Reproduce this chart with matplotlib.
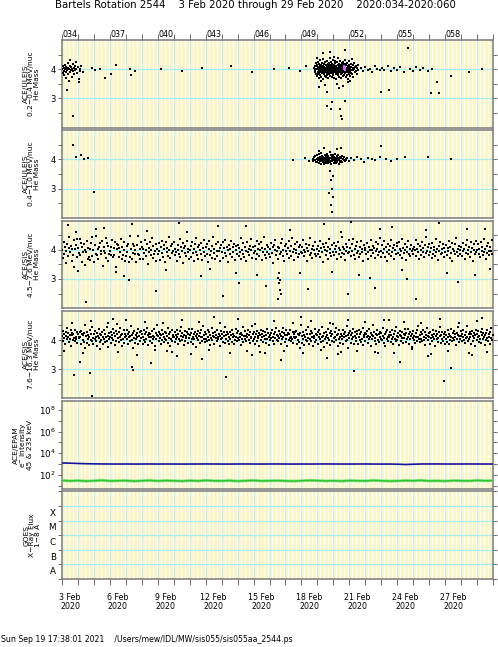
import numpy as np
import matplotlib
matplotlib.use("Agg")
from matplotlib import pyplot as plt
import matplotlib.ticker as mticker

plt.rcParams['font.family'] = ['DejaVu Sans']

# ---- axis / label data ----
doy_start, doy_end = 34, 61
doy_labels = ['034', '037', '040', '043', '046', '049', '052', '055', '058']
doy_label_days = [34, 37, 40, 43, 46, 49, 52, 55, 58]
date_labels = ['3 Feb\n2020', '6 Feb\n2020', '9 Feb\n2020', '12 Feb\n2020', '15 Feb\n2020',
               '18 Feb\n2020', '21 Feb\n2020', '24 Feb\n2020', '27 Feb\n2020']
panel_labels = ["ACE/ULEIS\n0.2\u22120.4 MeV/nuc\nHe Mass",
                "ACE/ULEIS\n0.4\u22121.0 MeV/nuc\nHe Mass",
                "ACE/SIS\n4.5\u22127.6 MeV/nuc\nHe Mass",
                "ACE/SIS\n7.6\u221216.3 MeV/nuc\nHe Mass",
                "ACE/EPAM\ne$^{-}$ Intensity\n45 & 235 keV",
                "GOES\nX\u2212Ray Flux\n1\u22128 \u00c5"]
goes_classes = ['A', 'B', 'C', 'M', 'X']
title = "Bartels Rotation 2544    3 Feb 2020 through 29 Feb 2020    2020:034-2020:060"
footer = "Sun Sep 19 17:38:01 2021    /Users/mew/IDL/MW/sis055/sis055aa_2544.ps"

# ---- ULEIS 0.2-0.4 MeV/nuc (doy, mass) ----
uleis_lo_pts = [
    (34.02, 4.02), (34.05, 3.88), (34.08, 4.10), (34.10, 3.95), (34.12, 4.05), (34.15, 3.80), (34.18, 4.00),
    (34.20, 4.15), (34.22, 3.92), (34.25, 4.08), (34.28, 3.70), (34.30, 4.02), (34.33, 3.98), (34.35, 4.20),
    (34.38, 3.85), (34.40, 4.05), (34.43, 3.60), (34.45, 4.00), (34.48, 4.12), (34.50, 3.90), (34.53, 4.30),
    (34.55, 3.96), (34.58, 4.06), (34.60, 3.75), (34.63, 4.00), (34.66, 4.18), (34.70, 3.93), (34.73, 4.03),
    (34.76, 3.82), (34.80, 4.10), (34.83, 3.97), (34.87, 4.25), (34.90, 4.00), (34.95, 3.88), (35.00, 4.08),
    (35.05, 3.65), (35.10, 4.02), (35.15, 3.95), (35.20, 4.12), (35.30, 3.90), (34.30, 3.30), (34.70, 2.40),
    (35.05, 3.55), (35.85, 4.05), (36.06, 3.97), (36.40, 4.02), (36.70, 3.70), (37.10, 3.82), (37.40, 4.13),
    (38.25, 4.00), (38.30, 3.80), (38.60, 3.95), (40.20, 4.00), (41.50, 3.95), (42.80, 4.05), (44.60, 4.10),
    (45.90, 3.90), (47.30, 4.00), (48.20, 4.05), (48.90, 3.95), (49.30, 4.10),
    # main burst
    (49.80, 4.05), (49.83, 3.92), (49.86, 4.12), (49.88, 3.98), (49.90, 4.20), (49.92, 3.85), (49.94, 4.02),
    (49.95, 4.10), (49.97, 3.78), (49.99, 4.00), (50.00, 4.15), (50.01, 3.90), (50.03, 4.05), (50.04, 3.82),
    (50.05, 4.25), (50.07, 3.96), (50.08, 4.08), (50.09, 3.70), (50.10, 4.00), (50.12, 4.18), (50.13, 3.88),
    (50.14, 4.03), (50.15, 3.95), (50.17, 4.30), (50.18, 3.80), (50.19, 4.10), (50.20, 3.99), (50.22, 4.06),
    (50.23, 3.74), (50.24, 4.14), (50.25, 3.92), (50.27, 4.01), (50.28, 4.22), (50.29, 3.86), (50.30, 4.07),
    (50.32, 3.97), (50.33, 4.35), (50.34, 3.65), (50.35, 4.04), (50.37, 3.90), (50.38, 4.12), (50.39, 3.83),
    (50.40, 4.00), (50.42, 4.19), (50.43, 3.94), (50.44, 4.09), (50.45, 3.77), (50.47, 4.02), (50.48, 4.26),
    (50.49, 3.89), (50.50, 4.05), (50.52, 3.96), (50.53, 4.15), (50.54, 3.72), (50.55, 4.01), (50.57, 4.11),
    (50.58, 3.87), (50.59, 4.04), (50.60, 3.93), (50.62, 4.28), (50.63, 3.81), (50.64, 4.06), (50.65, 3.98),
    (50.67, 4.17), (50.68, 3.69), (50.69, 4.03), (50.70, 4.13), (50.72, 3.91), (50.73, 4.00), (50.74, 4.21),
    (50.75, 3.84), (50.77, 4.08), (50.78, 3.95), (50.79, 4.40), (50.80, 3.78), (50.82, 4.02), (50.83, 4.16),
    (50.84, 3.88), (50.85, 4.05), (50.87, 3.97), (50.88, 4.24), (50.89, 3.75), (50.90, 4.10), (50.92, 3.92),
    (50.93, 4.01), (50.94, 4.18), (50.95, 3.86), (50.97, 4.06), (50.98, 3.99), (50.99, 4.32), (51.00, 3.80),
    (51.02, 4.09), (51.03, 3.94), (51.04, 4.14), (51.05, 3.71), (51.07, 4.03), (51.08, 4.20), (51.09, 3.90),
    (51.10, 4.04), (51.12, 3.96), (51.13, 4.27), (51.14, 3.83), (51.15, 4.07), (51.17, 3.98), (51.18, 4.12),
    (51.19, 3.66), (51.20, 4.00), (51.22, 4.23), (51.23, 3.89), (51.24, 4.05), (51.25, 3.93), (51.27, 4.15),
    (51.28, 3.79), (51.29, 4.02), (51.30, 4.38), (51.32, 3.87), (51.33, 4.08), (51.34, 3.95), (51.35, 4.19),
    (51.37, 3.74), (51.38, 4.01), (51.39, 4.11), (51.40, 3.91), (51.42, 4.04), (51.43, 3.97), (51.44, 4.29),
    (51.45, 3.82), (51.47, 4.06), (51.48, 3.99), (51.49, 4.16), (51.50, 3.70), (51.52, 4.03), (51.53, 4.21),
    (51.54, 3.88), (51.55, 4.09), (51.57, 3.94), (51.58, 4.13), (51.59, 3.76), (51.60, 4.00), (51.62, 4.25),
    (51.63, 3.90), (51.64, 4.05), (51.65, 3.96), (51.67, 4.17), (51.68, 3.81), (51.69, 4.02), (51.70, 4.10),
    (51.72, 3.93), (51.73, 4.31), (51.74, 3.86), (51.75, 4.07), (51.77, 3.98), (51.78, 4.14), (51.79, 3.73),
    (51.80, 4.01), (51.82, 4.19), (51.83, 3.89), (51.84, 4.04), (51.85, 3.95), (51.87, 4.22), (51.88, 3.79),
    (51.89, 4.08), (51.90, 3.97), (51.92, 4.12), (51.93, 3.68), (51.94, 4.03), (51.95, 4.16), (51.97, 3.91),
    (51.98, 4.05), (51.99, 3.84), (52.00, 4.27), (52.02, 3.94), (52.04, 4.09), (52.05, 3.77), (52.07, 4.02),
    (52.09, 4.18), (52.10, 3.88), (52.12, 4.06), (52.14, 3.96), (52.16, 4.34), (52.18, 3.82), (52.20, 4.04),
    (52.22, 3.99), (52.24, 4.13), (52.26, 3.72), (52.28, 4.01), (52.31, 4.20), (52.33, 3.90), (52.36, 4.07),
    (52.39, 3.95), (52.42, 4.11), (52.45, 3.85), (52.48, 4.03), (52.52, 3.97), (52.55, 4.15),
    (50.10, 3.40), (50.35, 4.55), (50.60, 3.23), (50.62, 2.73), (50.90, 2.87), (50.85, 2.63), (51.40, 2.63),
    (51.50, 2.40), (51.55, 2.30), (51.70, 2.90), (51.70, 4.67), (51.05, 4.43), (49.95, 4.40), (50.50, 3.45),
    (51.20, 3.50), (51.90, 3.55), (50.80, 4.60), (51.35, 3.35), (52.05, 3.60), (50.25, 3.58), (51.62, 3.42),
    # trailing points
    (52.70, 4.05), (52.85, 3.95), (53.00, 4.08), (53.15, 3.98), (53.30, 4.02), (53.45, 3.92), (53.60, 4.10),
    (53.75, 4.00), (53.90, 3.96), (54.00, 3.23), (54.05, 4.05), (54.20, 3.99), (54.40, 4.12), (54.50, 3.30),
    (54.60, 3.94), (54.80, 4.03), (55.00, 3.97), (55.20, 4.08), (55.40, 3.90), (55.70, 4.73), (55.80, 4.02),
    (56.00, 3.95), (56.20, 4.06), (56.40, 3.99), (56.60, 4.04), (56.90, 3.93), (57.10, 3.20), (57.20, 4.01),
    (57.50, 3.57), (57.60, 3.20), (58.40, 3.77), (59.50, 3.90), (60.30, 4.00),
]
uleis_lo_pink = [(51.65, 4.02), (51.68, 4.06), (51.70, 3.98), (51.72, 4.04), (51.67, 4.10), (51.71, 4.08)]

# ---- ULEIS 0.4-1.0 MeV/nuc (doy, mass) ----
uleis_hi_pts = [
    (34.70, 4.50), (34.85, 4.10), (35.20, 4.15), (35.40, 4.02), (35.60, 4.05), (36.00, 2.87),
    (48.50, 3.98), (49.20, 4.05), (49.50, 3.95),
    (49.70, 4.02), (49.75, 3.95), (49.80, 4.08), (49.85, 3.98), (49.88, 4.12), (49.92, 3.90), (49.95, 4.03),
    (49.98, 4.15), (50.00, 3.93), (50.03, 4.05), (50.05, 3.97), (50.07, 4.18), (50.10, 3.88), (50.12, 4.01),
    (50.14, 4.10), (50.16, 3.94), (50.18, 4.06), (50.20, 3.99), (50.22, 4.22), (50.25, 3.86), (50.27, 4.04),
    (50.29, 3.96), (50.31, 4.13), (50.33, 3.91), (50.35, 4.00), (50.37, 4.09), (50.39, 3.84), (50.41, 4.03),
    (50.43, 3.97), (50.45, 4.16), (50.47, 3.92), (50.49, 4.05), (50.51, 3.98), (50.53, 4.11), (50.55, 3.89),
    (50.57, 4.02), (50.59, 4.20), (50.61, 3.95), (50.63, 4.07), (50.65, 3.87), (50.67, 4.00), (50.69, 4.12),
    (50.71, 3.93), (50.73, 4.04), (50.75, 3.99), (50.77, 4.25), (50.79, 3.90), (50.81, 4.06), (50.83, 3.96),
    (50.85, 4.14), (50.87, 3.85), (50.89, 4.01), (50.91, 4.09), (50.93, 3.94), (50.95, 4.03), (50.97, 3.97),
    (50.99, 4.17), (51.01, 3.88), (51.03, 4.05), (51.05, 3.98), (51.07, 4.10), (51.09, 3.92), (51.11, 4.02),
    (51.13, 4.19), (51.15, 3.95), (51.17, 4.06), (51.19, 3.89), (51.21, 4.00), (51.23, 4.12), (51.25, 3.93),
    (51.27, 4.04), (51.29, 3.97), (51.31, 4.15), (51.33, 3.86), (51.35, 4.03), (51.38, 3.99), (51.41, 4.08),
    (51.44, 3.91), (51.47, 4.05), (51.50, 3.96), (51.53, 4.11), (51.56, 3.90), (51.60, 4.02), (51.64, 3.97),
    (51.68, 4.07), (51.72, 3.94), (51.77, 4.03), (51.82, 3.98), (51.88, 4.06), (51.95, 3.95),
    (50.80, 3.60), (50.85, 3.30), (50.90, 3.00), (50.95, 2.70), (50.88, 2.45), (50.92, 2.20), (51.00, 3.45),
    (50.75, 2.85), (50.40, 4.40), (51.20, 4.35), (50.10, 4.30), (51.50, 4.38),
    (52.10, 4.05), (52.30, 3.97), (52.50, 4.08), (52.70, 4.00), (52.90, 3.93), (53.20, 4.06), (53.40, 4.02),
    (53.60, 3.98), (53.90, 4.10), (54.00, 4.45), (54.30, 4.00), (54.60, 3.95), (55.00, 4.03), (55.50, 4.08),
    (56.90, 4.10), (58.40, 4.00),
]

# ---- SIS 4.5-7.6 MeV/nuc: masses per day, sampled at sis_lo_offsets within each day ----
sis_lo_offsets = [0.01, 0.06, 0.10, 0.15, 0.19, 0.24, 0.28, 0.33, 0.37, 0.42, 0.46,
                  0.51, 0.55, 0.60, 0.64, 0.69, 0.73, 0.78, 0.82, 0.87, 0.91, 0.96]
sis_lo_mass = [
    [4.00, 3.73, 4.26, 3.87, 4.09, 3.55, 3.97, 4.20, 3.80, 4.43, 4.05, 3.92, 4.13, 3.62, 4.04, 3.83, 4.32, 3.40, 4.02, 4.16, 3.76, 4.38],
    [4.06, 3.88, 4.37, 3.81, 4.24, 3.59, 4.11, 3.91, 4.18, 3.48, 4.00, 3.93, 4.29, 3.70, 4.07, 3.74, 4.03, 3.65, 4.22, 3.79, 4.45, 3.99],
    [3.57, 4.15, 3.86, 4.47, 3.82, 4.02, 3.70, 4.10, 4.23, 3.85, 3.96, 4.30, 3.44, 3.96, 4.08, 3.90, 4.40, 3.73, 4.24, 3.60, 4.14, 3.84],
    [3.96, 4.08, 3.83, 4.33, 3.75, 4.05, 3.82, 4.28, 3.42, 4.01, 4.19, 4.16, 3.76, 4.06, 3.91, 4.37, 3.69, 4.09, 3.81, 3.99, 4.27, 3.63],
    [3.79, 4.13, 3.93, 4.19, 3.58, 4.46, 3.74, 4.03, 3.70, 4.21, 3.89, 4.14, 3.85, 3.99, 3.57, 4.15, 3.86, 4.47, 3.82, 4.02, 3.68, 4.25],
    [4.11, 3.67, 4.02, 3.89, 4.34, 3.78, 3.98, 4.21, 3.52, 4.06, 3.94, 4.27, 3.81, 4.00, 4.41, 3.72, 4.12, 3.87, 3.95, 4.18, 3.61, 4.03],
    [3.84, 4.22, 3.97, 3.66, 4.09, 4.31, 3.90, 3.76, 4.15, 4.02, 3.58, 4.25, 3.93, 4.07, 3.80, 4.44, 3.99, 3.71, 4.13, 3.88, 4.19, 3.95],
    [4.28, 3.82, 4.04, 3.93, 3.63, 4.17, 4.00, 3.86, 4.36, 3.74, 4.10, 3.96, 4.23, 3.55, 4.05, 3.89, 4.14, 3.78, 4.30, 3.92, 4.01, 3.69],
    [3.98, 4.12, 3.75, 4.26, 3.88, 4.03, 3.60, 4.19, 3.94, 4.39, 3.81, 4.08, 3.70, 4.16, 3.99, 3.85, 4.24, 3.64, 4.06, 3.91, 4.33, 3.79],
    [4.09, 3.87, 4.20, 3.59, 4.01, 4.29, 3.83, 3.96, 4.13, 3.73, 4.42, 3.90, 4.04, 3.68, 4.18, 3.95, 3.80, 4.27, 3.97, 4.07, 3.62, 4.15],
    [3.93, 4.25, 3.71, 4.05, 3.89, 4.35, 3.77, 4.11, 3.99, 3.57, 4.16, 3.86, 4.02, 4.30, 3.74, 4.09, 3.92, 4.21, 3.66, 4.00, 4.12, 3.84],
    [4.17, 3.79, 4.06, 3.94, 4.40, 3.68, 4.00, 3.87, 4.23, 3.75, 4.10, 3.97, 3.61, 4.28, 3.91, 4.04, 3.83, 4.14, 3.98, 4.37, 3.72, 4.08],
    [3.89, 4.14, 3.96, 3.70, 4.31, 3.85, 4.03, 4.19, 3.78, 3.99, 4.26, 3.64, 4.07, 3.92, 4.45, 3.81, 4.01, 3.73, 4.15, 3.94, 4.09, 3.86],
    [4.02, 3.76, 4.24, 3.90, 4.08, 3.55, 4.17, 3.98, 4.33, 3.82, 3.95, 4.11, 3.69, 4.05, 3.87, 4.22, 3.93, 4.38, 3.77, 4.00, 3.63, 4.13],
    [3.95, 4.20, 3.84, 4.06, 3.72, 4.29, 3.97, 4.12, 3.80, 4.41, 3.91, 4.03, 3.66, 4.18, 3.89, 3.99, 4.25, 3.75, 4.08, 3.86, 4.15, 3.94],
    [4.10, 3.88, 4.34, 3.79, 4.00, 3.93, 4.21, 3.62, 4.07, 3.96, 4.16, 3.83, 4.39, 3.90, 4.04, 3.71, 4.13, 3.98, 3.85, 4.27, 3.77, 4.02],
    [3.87, 4.12, 3.97, 4.30, 3.74, 4.05, 3.91, 4.19, 3.58, 4.09, 3.99, 3.82, 4.24, 3.95, 4.11, 3.68, 4.36, 3.89, 4.03, 3.80, 4.17, 3.92],
    [4.23, 3.81, 4.01, 3.94, 4.14, 3.70, 4.28, 3.86, 4.06, 3.99, 3.76, 4.43, 3.90, 4.10, 3.84, 4.02, 3.65, 4.20, 3.96, 4.08, 3.88, 4.32],
    [3.92, 4.07, 3.78, 4.18, 3.96, 4.37, 3.83, 4.02, 3.69, 4.13, 3.90, 4.25, 3.97, 3.74, 4.09, 3.86, 4.31, 3.94, 4.04, 3.61, 4.16, 3.99],
    [4.05, 3.85, 4.22, 3.93, 3.67, 4.11, 4.00, 4.34, 3.80, 3.98, 4.14, 3.88, 4.06, 3.73, 4.27, 3.95, 4.01, 3.82, 4.19, 3.91, 4.40, 3.76],
    [3.97, 4.16, 3.89, 4.03, 4.29, 3.75, 4.08, 3.94, 3.60, 4.21, 3.86, 4.00, 4.12, 3.79, 4.35, 3.92, 4.05, 3.70, 4.17, 3.98, 3.84, 4.24],
    [4.13, 3.90, 4.26, 3.82, 4.01, 3.96, 4.38, 3.72, 4.07, 3.88, 4.19, 3.99, 3.64, 4.10, 3.93, 4.30, 3.85, 4.04, 3.77, 4.15, 3.95, 4.02],
    [3.86, 4.09, 3.98, 4.32, 3.79, 4.04, 3.91, 4.20, 3.68, 4.12, 4.00, 3.83, 4.27, 3.94, 4.06, 3.74, 4.17, 3.89, 4.42, 3.97, 4.08, 3.81],
    [4.19, 3.93, 4.05, 3.71, 4.24, 3.87, 4.11, 3.99, 3.80, 4.36, 3.92, 4.03, 3.66, 4.14, 3.96, 4.28, 3.84, 4.01, 3.90, 4.21, 3.75, 4.07],
    [3.94, 4.15, 3.82, 4.06, 3.97, 4.31, 3.73, 4.09, 3.88, 4.22, 3.62, 4.02, 3.95, 4.18, 3.85, 4.40, 3.91, 4.04, 3.78, 4.13, 3.99, 3.87],
    [4.08, 3.80, 4.23, 3.95, 4.03, 3.69, 4.16, 3.90, 4.34, 3.84, 4.00, 4.11, 3.76, 4.26, 3.93, 4.05, 3.63, 4.19, 3.98, 3.86, 4.29, 3.92],
    [3.99, 4.18, 3.87, 4.04, 3.74, 4.27, 3.96, 4.10, 3.83, 4.37, 3.92, 4.02, 3.70, 4.14, 3.89, 4.22, 3.95, 3.81, 4.08, 3.97, 4.33, 3.85],
]
sis_lo_extra = [
    (34.35, 4.85), (34.90, 4.62), (35.50, 2.20), (36.10, 4.70), (36.60, 4.75), (37.40, 3.25), (37.90, 3.10),
    (38.20, 2.95), (38.40, 4.87), (39.30, 4.65), (39.90, 2.60), (40.50, 3.30), (41.30, 4.90), (41.80, 4.60),
    (42.70, 3.10), (43.30, 3.35), (43.80, 4.82), (44.10, 2.40), (44.90, 3.20), (45.50, 4.80), (46.20, 3.15),
    (46.80, 2.75), (47.55, 3.05), (47.60, 2.85), (47.63, 2.62), (47.66, 2.95), (47.70, 2.50), (47.58, 3.20),
    (47.50, 2.30), (48.30, 4.68), (48.90, 3.20), (49.40, 2.65), (50.40, 4.88), (50.90, 3.25), (51.50, 4.62),
    (51.90, 2.50), (52.60, 3.15), (53.30, 3.05), (53.90, 4.72), (54.70, 4.78), (55.30, 3.30), (55.60, 3.00),
    (56.20, 2.30), (56.80, 4.66), (57.60, 4.92), (58.10, 3.22), (58.80, 2.90), (59.40, 4.70), (59.90, 3.15),
    (60.50, 4.70), (60.80, 3.35), (35.00, 3.28), (45.10, 2.85), (53.60, 2.70), (52.10, 4.95),
]

# ---- SIS 7.6-16.3 MeV/nuc: masses per day, sampled at sis_hi_offsets ----
sis_hi_offsets = [0.01, 0.05, 0.08, 0.12, 0.15, 0.19, 0.22, 0.26, 0.29, 0.33, 0.37, 0.40, 0.44, 0.47,
                  0.51, 0.54, 0.58, 0.62, 0.65, 0.69, 0.72, 0.76, 0.79, 0.83, 0.87, 0.90, 0.94, 0.97]
sis_hi_mass = [
    [4.15, 3.98, 4.32, 4.06, 4.21, 3.87, 4.13, 4.27, 4.02, 4.40, 4.10, 4.23, 3.93, 4.17, 4.04, 4.34, 3.81, 4.16, 4.25, 4.00, 4.19, 4.08, 4.36, 3.96, 4.12, 4.03, 4.29, 3.91],
    [4.22, 4.09, 4.06, 4.26, 4.11, 4.31, 3.85, 4.20, 3.99, 4.17, 3.94, 4.24, 3.72, 4.50, 4.14, 3.90, 4.28, 4.05, 4.18, 3.83, 4.10, 4.35, 4.01, 4.22, 3.95, 4.44, 4.07, 3.88],
    [4.19, 4.03, 4.30, 3.97, 4.12, 4.25, 3.79, 4.15, 4.08, 4.38, 3.92, 4.21, 4.00, 4.16, 4.27, 3.86, 4.11, 4.33, 4.02, 4.20, 3.94, 4.09, 4.46, 3.98, 4.14, 3.76, 4.23, 4.05],
    [4.10, 4.29, 3.89, 4.18, 4.06, 4.37, 4.01, 4.24, 3.84, 4.13, 4.31, 3.96, 4.20, 4.55, 4.07, 3.93, 4.26, 4.12, 4.40, 3.99, 4.16, 3.81, 4.22, 4.04, 4.33, 3.90, 4.11, 4.19],
    [4.15, 4.02, 4.36, 3.87, 4.21, 4.09, 4.28, 3.95, 4.13, 4.47, 4.00, 4.18, 3.74, 4.25, 4.06, 4.32, 3.91, 4.17, 4.03, 4.23, 4.11, 4.39, 3.85, 4.14, 4.26, 3.97, 4.08, 4.30],
    [4.20, 3.88, 4.12, 4.35, 4.01, 4.19, 3.93, 4.27, 4.05, 4.42, 3.82, 4.16, 4.10, 4.24, 3.98, 4.21, 4.09, 4.31, 3.90, 4.15, 4.04, 4.37, 4.12, 3.78, 4.25, 4.02, 4.18, 4.52],
    [4.13, 4.29, 3.95, 4.08, 4.22, 3.86, 4.17, 4.34, 4.00, 4.20, 3.92, 4.11, 4.28, 4.05, 4.24, 3.99, 4.14, 4.41, 3.89, 4.07, 4.19, 3.80, 4.26, 4.03, 4.33, 3.96, 4.10, 4.18],
    [4.09, 4.27, 3.94, 4.16, 4.02, 4.36, 4.12, 3.87, 4.21, 4.05, 4.30, 3.98, 4.45, 4.15, 4.01, 4.23, 4.10, 3.84, 4.18, 4.32, 3.97, 4.14, 4.06, 4.28, 3.91, 4.20, 4.08, 4.38],
    [4.16, 3.93, 4.25, 4.04, 4.39, 4.11, 3.86, 4.19, 4.02, 4.27, 4.13, 3.77, 4.22, 4.07, 4.30, 4.00, 4.15, 3.89, 4.24, 4.09, 4.35, 3.96, 4.12, 4.48, 4.03, 4.18, 3.92, 4.26],
    [4.05, 4.20, 3.95, 4.33, 4.11, 4.01, 4.27, 3.83, 4.17, 4.08, 4.40, 3.99, 4.14, 4.23, 4.12, 3.88, 4.29, 4.06, 4.18, 3.97, 4.36, 4.10, 4.02, 4.21, 3.79, 4.15, 4.31, 4.04],
    [4.19, 4.08, 3.93, 4.26, 4.13, 4.44, 3.90, 4.16, 4.05, 4.29, 3.98, 4.22, 4.11, 3.85, 4.28, 4.03, 4.17, 3.94, 4.34, 4.09, 4.21, 3.87, 4.14, 4.00, 4.38, 4.12, 3.96, 4.24],
    [4.07, 4.31, 3.99, 4.20, 4.11, 3.82, 4.25, 4.04, 4.16, 4.43, 3.92, 4.13, 4.02, 4.30, 4.14, 3.95, 4.22, 4.09, 4.36, 4.00, 4.18, 3.89, 4.27, 4.06, 4.12, 4.49, 3.97, 4.19],
    [4.03, 4.26, 4.11, 3.86, 4.20, 4.32, 3.98, 4.15, 4.07, 4.24, 3.80, 4.17, 4.35, 4.01, 4.21, 4.09, 4.30, 3.93, 4.13, 4.04, 4.27, 3.91, 4.18, 4.39, 4.02, 4.23, 4.10, 3.84],
    [4.16, 3.99, 4.25, 4.08, 4.33, 3.95, 4.12, 4.20, 3.87, 4.29, 4.06, 4.41, 4.00, 4.18, 4.15, 3.98, 4.32, 4.06, 4.21, 3.87, 4.13, 4.27, 4.02, 4.40, 4.10, 4.23, 3.93, 4.17],
    [4.04, 4.34, 3.81, 4.16, 4.25, 4.00, 4.19, 4.08, 4.36, 3.96, 4.12, 4.03, 4.29, 3.91, 4.22, 4.09, 4.06, 4.26, 4.11, 4.31, 3.85, 4.20, 3.99, 4.17, 3.94, 4.24, 3.72, 4.50],
    [4.14, 3.90, 4.28, 4.05, 4.18, 3.83, 4.10, 4.35, 4.01, 4.22, 3.95, 4.44, 4.07, 3.88, 4.19, 4.03, 4.30, 3.97, 4.12, 4.25, 3.79, 4.15, 4.08, 4.38, 3.92, 4.21, 4.00, 4.16],
    [4.27, 3.86, 4.11, 4.33, 4.02, 4.20, 3.94, 4.09, 4.46, 3.98, 4.14, 3.76, 4.23, 4.05, 4.10, 4.29, 3.89, 4.18, 4.06, 4.37, 4.01, 4.24, 3.84, 4.13, 4.31, 3.96, 4.20, 4.55],
    [4.07, 3.93, 4.26, 4.12, 4.40, 3.99, 4.16, 3.81, 4.22, 4.04, 4.33, 3.90, 4.11, 4.19, 4.15, 4.02, 4.36, 3.87, 4.21, 4.09, 4.28, 3.95, 4.13, 4.47, 4.00, 4.18, 3.74, 4.25],
    [4.06, 4.32, 3.91, 4.17, 4.03, 4.23, 4.11, 4.39, 3.85, 4.14, 4.26, 3.97, 4.08, 4.30, 4.20, 3.88, 4.12, 4.35, 4.01, 4.19, 3.93, 4.27, 4.05, 4.42, 3.82, 4.16, 4.10, 4.24],
    [3.98, 4.21, 4.09, 4.31, 3.90, 4.15, 4.04, 4.37, 4.12, 3.78, 4.25, 4.02, 4.18, 4.52, 4.13, 4.29, 3.95, 4.08, 4.22, 3.86, 4.17, 4.34, 4.00, 4.20, 3.92, 4.11, 4.28, 4.05],
    [4.24, 3.99, 4.14, 4.41, 3.89, 4.07, 4.19, 3.80, 4.26, 4.03, 4.33, 3.96, 4.10, 4.18, 4.09, 4.27, 3.94, 4.16, 4.02, 4.36, 4.12, 3.87, 4.21, 4.05, 4.30, 3.98, 4.45, 4.15],
    [4.01, 4.23, 4.10, 3.84, 4.18, 4.32, 3.97, 4.14, 4.06, 4.28, 3.91, 4.20, 4.08, 4.38, 4.16, 3.93, 4.25, 4.04, 4.39, 4.11, 3.86, 4.19, 4.02, 4.27, 4.13, 3.77, 4.22, 4.07],
    [4.30, 4.00, 4.15, 3.89, 4.24, 4.09, 4.35, 3.96, 4.12, 4.48, 4.03, 4.18, 3.92, 4.26, 4.05, 4.20, 3.95, 4.33, 4.11, 4.01, 4.27, 3.83, 4.17, 4.08, 4.40, 3.99, 4.14, 4.23],
    [4.12, 3.88, 4.29, 4.06, 4.18, 3.97, 4.36, 4.10, 4.02, 4.21, 3.79, 4.15, 4.31, 4.04, 4.19, 4.08, 3.93, 4.26, 4.13, 4.44, 3.90, 4.16, 4.05, 4.29, 3.98, 4.22, 4.11, 3.85],
    [4.28, 4.03, 4.17, 3.94, 4.34, 4.09, 4.21, 3.87, 4.14, 4.00, 4.38, 4.12, 3.96, 4.24, 4.07, 4.31, 3.99, 4.20, 4.11, 3.82, 4.25, 4.04, 4.16, 4.43, 3.92, 4.13, 4.02, 4.30],
    [4.14, 3.95, 4.22, 4.09, 4.36, 4.00, 4.18, 3.89, 4.27, 4.06, 4.12, 4.49, 3.97, 4.19, 4.03, 4.26, 4.11, 3.86, 4.20, 4.32, 3.98, 4.15, 4.07, 4.24, 3.80, 4.17, 4.35, 4.01],
    [4.21, 4.09, 4.30, 3.93, 4.13, 4.04, 4.27, 3.91, 4.18, 4.39, 4.02, 4.23, 4.10, 3.84, 4.16, 3.99, 4.25, 4.08, 4.33, 3.95, 4.12, 4.20, 3.87, 4.29, 4.06, 4.41, 4.00, 4.18],
]
sis_hi_extra = [
    (34.10, 3.62), (34.60, 4.58), (35.30, 3.55), (35.80, 4.65), (36.40, 3.68), (36.90, 4.60), (37.50, 3.58),
    (38.00, 4.70), (38.70, 3.50), (39.20, 4.62), (39.80, 3.65), (40.30, 4.57), (40.90, 3.60), (41.50, 4.68),
    (42.10, 3.52), (42.60, 4.63), (43.20, 3.66), (43.90, 4.59), (44.50, 3.57), (45.00, 4.72), (45.60, 3.63),
    (46.10, 4.56), (46.70, 3.54), (47.30, 4.66), (47.90, 3.61), (48.50, 4.60), (49.10, 3.56), (49.60, 4.64),
    (50.20, 3.67), (50.80, 4.58), (51.30, 3.53), (51.90, 4.69), (52.50, 3.64), (53.00, 4.61), (53.60, 3.59),
    (54.20, 4.67), (54.80, 3.55), (55.40, 4.62), (55.90, 3.68), (56.50, 4.57), (57.10, 3.51), (57.70, 4.71),
    (58.20, 3.62), (58.90, 4.59), (59.50, 3.57), (60.00, 4.65), (60.60, 3.60),
    (34.75, 2.82), (35.75, 2.86), (35.15, 3.25), (35.90, 2.10), (38.40, 3.07), (38.45, 2.96), (39.60, 3.20),
    (41.20, 3.45), (42.80, 3.35), (44.30, 2.75), (45.90, 3.50), (47.70, 3.30), (49.00, 4.78), (50.60, 3.40),
    (52.30, 2.95), (53.80, 3.55), (55.20, 3.25), (56.90, 3.45), (58.40, 3.05), (59.70, 3.50), (60.30, 4.75),
    (37.20, 4.72), (43.50, 4.80), (54.50, 4.70), (57.90, 2.60), (46.40, 3.60), (51.50, 3.58), (40.60, 3.62),
]

# ---- EPAM electron intensity, half-day samples from doy 34 ----
epam_45kev = [1250, 1190, 1120, 1060, 1030, 1010, 1000, 990, 1000, 985,
              995, 1005, 990, 1000, 995, 985, 990, 1000, 1010, 1000,
              990, 985, 1000, 1005, 995, 990, 1000, 1005, 995, 985,
              1000, 990, 1000, 1010, 1000, 995, 990, 1000, 1005, 990,
              985, 990, 960, 900, 950, 1000, 1005, 1010, 1000, 995,
              1000, 1005, 1000, 995, 1000]
epam_235kev = [30, 27, 29, 26, 28, 31, 27, 28, 29, 26,
               28, 30, 27, 29, 28, 26, 29, 27, 30, 28,
               27, 29, 26, 28, 30, 27, 28, 29, 27, 26,
               28, 30, 29, 27, 28, 26, 29, 28, 27, 30,
               28, 26, 27, 29, 28, 30, 27, 28, 26, 29,
               28, 27, 30, 28, 29]

YELLOW = '#fbf6c0'
CYAN = '#c4f0fa'
GRID = '#a6eef2'
FRAME = '#7a7a7a'

fig = plt.figure(figsize=(4.98, 6.47), dpi=100)
gs = fig.add_gridspec(6, 1, left=62 / 498, right=493 / 498,
                      top=1 - 40 / 647, bottom=1 - 579 / 647, hspace=0.03)
axes = [fig.add_subplot(gs[i]) for i in range(6)]

days = np.arange(doy_start, doy_end + 1)
stripes = np.arange(doy_start + 0.06, doy_end, 0.25)

for i, ax in enumerate(axes):
    if i == 4:
        ax.set_yscale('log')
        ax.set_ylim(5.1, 6.8e8)
    elif i == 5:
        ax.set_yscale('log')
        ax.set_ylim(1e-8, 1e-2)
    else:
        ax.set_ylim(2, 5)
    ax.set_xlim(doy_start, doy_end)
    ax.vlines(stripes, 0, 1, transform=ax.get_xaxis_transform(), colors=YELLOW, lw=1.9, zorder=0)
    ax.vlines(days[1:-1], 0, 1, transform=ax.get_xaxis_transform(), colors=CYAN, lw=0.8, zorder=0.5)
    for s in ax.spines.values():
        s.set_color(FRAME)
        s.set_linewidth(1.1)
    ax.tick_params(axis='x', which='both', bottom=False, top=False, labelbottom=False, labeltop=False)
    ax.tick_params(axis='y', which='both', direction='out', left=True, right=True, length=3,
                   width=0.6, color='#555555', labelsize=6, pad=1.5)

# mass panels
lo = [(d + o, m) for d, row in zip(days, sis_lo_mass) for o, m in zip(sis_lo_offsets, row)] + sis_lo_extra
hi = [(d + o, m) for d, row in zip(days, sis_hi_mass) for o, m in zip(sis_hi_offsets, row)] + sis_hi_extra
mass_sets = [uleis_lo_pts, uleis_hi_pts, lo, hi]

for ax, pts in zip(axes[:4], mass_sets):
    t, m = zip(*pts)
    for lvl in (3, 4):
        ax.axhline(lvl, color=GRID, lw=0.9, zorder=0.6)
    ax.scatter(t, m, s=0.7, marker='s', c='k', lw=0, zorder=3)
    ax.set_yticks([3, 4])
    ax.set_yticks([2.5, 3.5, 4.5], minor=True)
    ax.set_ylim(2, 5)

pt, pm = zip(*uleis_lo_pink)
axes[0].scatter(pt, pm, s=3, marker='s', c='#cc66ee', lw=0, zorder=4)

# EPAM
ax = axes[4]
epam_t = doy_start + 0.5 * np.arange(len(epam_45kev))
ax.plot(epam_t, epam_235kev, color='#8de88d', lw=2.2, zorder=3)
ax.plot(epam_t, epam_235kev, color='#2fc42f', lw=1.1, zorder=3)
ax.plot(epam_t, epam_45kev, color='#1414a0', lw=1.2, zorder=3)
ax.yaxis.set_major_locator(mticker.FixedLocator([1e2, 1e4, 1e6, 1e8]))
ax.yaxis.set_major_formatter(mticker.LogFormatterMathtext())
ax.yaxis.set_minor_locator(mticker.FixedLocator([1e1, 1e3, 1e5, 1e7]))
ax.yaxis.set_minor_formatter(mticker.NullFormatter())
ax.tick_params(axis='y', which='both', labelsize=6.3)
ax.set_ylim(5.1, 6.8e8)

# GOES
ax = axes[5]
for e in range(-7, -2):
    ax.axhline(10.0 ** e, color=GRID, lw=0.9, zorder=0.6)
ax.yaxis.set_major_locator(mticker.FixedLocator([10.0 ** e for e in range(-8, -1)]))
ax.yaxis.set_major_formatter(mticker.NullFormatter())
ax.yaxis.set_minor_locator(mticker.LogLocator(base=10, subs=np.arange(2, 10)))
ax.yaxis.set_minor_formatter(mticker.NullFormatter())
ax.tick_params(axis='y', which='minor', length=2, right=False)
for k, cls in enumerate(goes_classes):
    ax.text(-0.014, 10.0 ** (-7.5 + k), cls, transform=ax.get_yaxis_transform(),
            ha='right', va='center', fontsize=6.3)
ax.set_ylim(1e-8, 1e-2)

# top axis: day of year
ax = axes[0]
ax.set_xticks(days)
ax.set_xticks([d + 0.5 for d in doy_label_days], labels=doy_labels, minor=True)
ax.tick_params(axis='x', which='major', top=True, bottom=False, direction='out', length=4,
               width=0.6, color='#555555', labeltop=False)
ax.tick_params(axis='x', which='minor', top=True, bottom=False, length=0, labeltop=True,
               labelbottom=False, labelsize=5.8, pad=1)

# bottom axis: dates
ax = axes[5]
ax.set_xticks(days)
ax.set_xticks([d + 0.5 for d in doy_label_days], labels=date_labels, minor=True)
ax.tick_params(axis='x', which='major', bottom=True, direction='out', length=4,
               width=0.6, color='#555555', labelbottom=False)
ax.tick_params(axis='x', which='minor', bottom=True, length=0, labelbottom=True,
               labelsize=5.7, pad=10)
for lab in ax.get_xticklabels(minor=True):
    lab.set_linespacing(0.95)

# panel labels
label_x = [31.5, 31.5, 31.5, 31.5, 23, 32.5]
for ax, txt, xp in zip(axes, panel_labels, label_x):
    pos = ax.get_position()
    fig.text(xp / 498, (pos.y0 + pos.y1) / 2, txt, rotation=90, ha='center', va='center',
             fontsize=5.4, linespacing=0.85)

fig.text(0.512, 1 - 5.5 / 647, title, ha='center', va='center', fontsize=7.3)
fig.text(0.002, 1 - 640 / 647, footer, ha='left', va='center', fontsize=5.6)

fig.savefig("out.png", dpi=100)
